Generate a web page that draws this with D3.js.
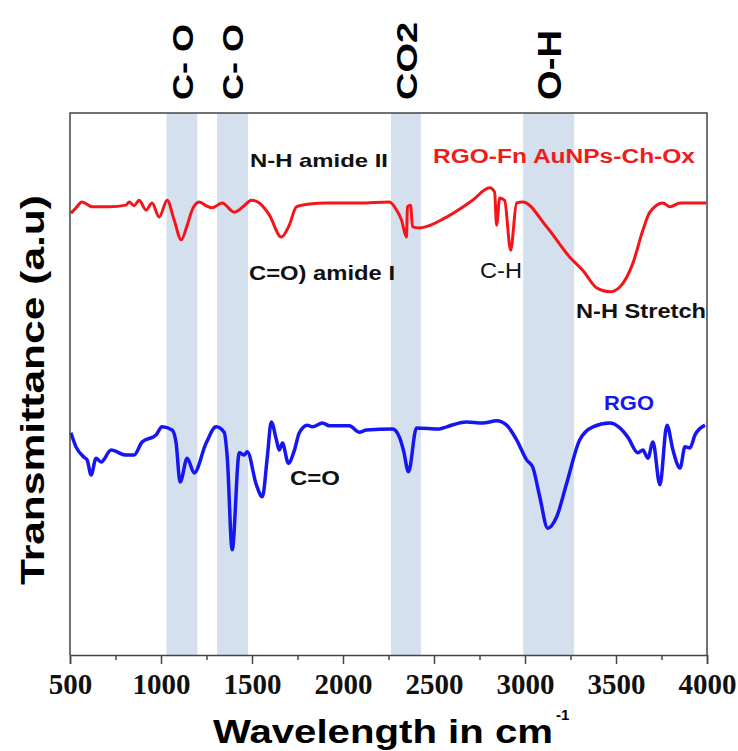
<!DOCTYPE html>
<html>
    <head>
        <style>
            body { margin: 0; background: #fff; }
            svg { display: block; background: #fff; }
        </style>
    </head>
    <body>
        <div id="chart"></div>

        <script src="https://cdnjs.cloudflare.com/ajax/libs/d3/7.8.5/d3.min.js"></script>

    <script>
        // wavenumbers (cm-1) and transmittance (a.u.)
        var fnWave = [505, 533, 566, 621, 715, 808, 825, 852, 880, 918, 951, 990, 1034, 1072, 1111, 1144, 1171, 1210, 1248, 1281, 1336, 1402, 1457, 1496, 1540, 1595, 1661, 1705, 1744, 1815, 1909, 2090, 2255, 2294, 2321, 2349, 2354, 2371, 2382, 2420, 2569, 2712, 2806, 2833, 2844, 2861, 2888, 2921, 2954, 2987, 3119, 3246, 3317, 3395, 3466, 3521, 3593, 3648, 3686, 3758, 3797, 3852, 3995];
        var fnT = [81.5, 82.5, 83.6, 82.7, 82.7, 83.0, 83.6, 82.9, 83.9, 82.1, 83.4, 80.8, 83.9, 80.3, 76.6, 79.3, 82.1, 83.6, 82.9, 82.5, 83.4, 81.7, 82.9, 83.9, 83.4, 81.2, 77.1, 79.3, 82.7, 83.2, 83.4, 83.4, 83.6, 82.1, 80.3, 77.1, 82.7, 83.0, 79.0, 78.8, 80.8, 83.9, 86.2, 85.4, 79.3, 84.3, 83.9, 74.7, 83.4, 83.6, 79.0, 73.4, 71.0, 67.7, 67.0, 67.9, 72.3, 78.4, 81.7, 83.4, 82.7, 83.4, 83.4];

        var rgoWave = [505, 533, 577, 594, 616, 643, 671, 726, 808, 852, 896, 973, 1006, 1061, 1083, 1105, 1144, 1182, 1248, 1303, 1347, 1364, 1391, 1430, 1458, 1474, 1524, 1557, 1584, 1606, 1634, 1650, 1667, 1700, 1733, 1760, 1804, 1832, 1887, 1925, 2035, 2090, 2129, 2272, 2310, 2332, 2360, 2404, 2531, 2569, 2679, 2767, 2844, 2899, 2954, 3009, 3042, 3081, 3125, 3174, 3229, 3301, 3373, 3466, 3521, 3565, 3620, 3648, 3675, 3703, 3741, 3780, 3813, 3852, 3879, 3906, 3934, 3989];
        var rgoT = [41.0, 38.4, 36.5, 36.0, 33.2, 36.3, 35.6, 37.8, 36.9, 36.9, 39.3, 40.6, 42.1, 41.5, 39.1, 31.9, 36.3, 33.6, 39.1, 42.1, 41.1, 36.5, 19.4, 37.3, 36.9, 37.5, 31.4, 29.2, 36.5, 43.0, 39.7, 37.8, 39.1, 35.4, 37.8, 41.0, 42.4, 42.1, 42.8, 42.3, 42.3, 41.1, 41.5, 41.7, 40.2, 37.8, 33.8, 41.9, 41.7, 42.1, 43.0, 42.8, 43.2, 42.4, 39.7, 36.0, 34.7, 29.2, 23.4, 25.5, 31.7, 39.7, 42.1, 42.8, 41.9, 40.2, 37.3, 37.8, 36.3, 39.3, 31.4, 42.4, 37.8, 34.5, 38.4, 38.2, 40.6, 42.4];

        // shaded band ranges (cm-1) and their labels
        var bandStart = [1030, 1308, 2264, 2990];
        var bandEnd = [1200, 1478, 2428, 3270];
        var bandLabels = ["C- O", "C- O", "CO2", "O-H"];

        var xTicks = [500, 1000, 1500, 2000, 2500, 3000, 3500, 4000];

        (function() {
            var width = 738,
                height = 751;
            var left = 70, right = 707, top = 113, bottom = 655;

            var svg = d3.select("#chart")
                .append("svg")
                .attr("width", width)
                .attr("height", height);

            var x = d3.scaleLinear().domain([500, 4000]).range([left, right]);
            var y = d3.scaleLinear().domain([0, 100]).range([bottom, top]);

            // bands
            svg.selectAll(".band")
                .data(bandStart)
                .enter().append("rect")
                .attr("class", "band")
                .attr("x", function(d) { return x(d); })
                .attr("width", function(d, i) { return x(bandEnd[i]) - x(d); })
                .attr("y", top)
                .attr("height", bottom - top)
                .attr("fill", "#d5e0ee");

            // band labels on top, rotated
            var labelSize = [30, 30, 30, 34];
            var labelLen = [76, 76, 78, 70];
            svg.selectAll(".blabel")
                .data(bandLabels)
                .enter().append("text")
                .attr("class", "blabel")
                .attr("transform", function(d, i) {
                    var cx = (x(bandStart[i]) + x(bandEnd[i])) / 2 + labelSize[i] * 0.36;
                    return "translate(" + cx + ",100) rotate(-90)";
                })
                .attr("font-family", "Liberation Sans, Arial, sans-serif")
                .attr("font-weight", "bold")
                .attr("font-size", function(d, i) { return labelSize[i]; })
                .attr("textLength", function(d, i) { return labelLen[i]; })
                .attr("lengthAdjust", "spacingAndGlyphs")
                .text(function(d) { return d; });

            var line = d3.line()
                .x(function(d) { return x(d[0]); })
                .y(function(d) { return y(d[1]); })
                .curve(d3.curveMonotoneX);

            svg.append("path")
                .datum(d3.zip(fnWave, fnT))
                .attr("d", line)
                .attr("fill", "none")
                .attr("stroke", "#f5141a")
                .attr("stroke-width", 3)
                .attr("stroke-linejoin", "round");

            svg.append("path")
                .datum(d3.zip(rgoWave, rgoT))
                .attr("d", line)
                .attr("fill", "none")
                .attr("stroke", "#1616f2")
                .attr("stroke-width", 3.5)
                .attr("stroke-linejoin", "round");

            // frame
            svg.append("path")
                .attr("d", "M" + left + "," + bottom + "V" + top + "H" + right + "V" + bottom)
                .attr("fill", "none")
                .attr("stroke", "#444")
                .attr("stroke-width", 1.5);

            // x axis
            var xAxis = d3.axisBottom(x)
                .tickValues(xTicks)
                .tickSize(9)
                .tickPadding(9)
                .tickFormat(d3.format("d"));
            var gx = svg.append("g")
                .attr("transform", "translate(0," + bottom + ")")
                .call(xAxis);
            gx.select(".domain").attr("stroke", "#444").attr("stroke-width", 1.5);
            gx.selectAll(".tick line").attr("stroke", "#444").attr("stroke-width", 1.5);
            gx.selectAll("text")
                .attr("font-family", "Liberation Serif, Times New Roman, serif")
                .attr("font-weight", "bold")
                .attr("font-size", 29)
                .attr("fill", "#111");

            var minor = d3.axisBottom(x)
                .tickValues(d3.range(750, 4000, 500))
                .tickSize(5)
                .tickFormat("");
            var gm = svg.append("g")
                .attr("transform", "translate(0," + bottom + ")")
                .call(minor);
            gm.select(".domain").remove();
            gm.selectAll(".tick line").attr("stroke", "#444").attr("stroke-width", 1.5);

            // axis titles
            svg.append("text")
                .attr("x", 213)
                .attr("y", 743)
                .attr("font-family", "Liberation Sans, Arial, sans-serif")
                .attr("font-weight", "bold")
                .attr("font-size", 34)
                .attr("textLength", 340)
                .attr("lengthAdjust", "spacingAndGlyphs")
                .text("Wavelength in cm");
            svg.append("text")
                .attr("x", 556)
                .attr("y", 720)
                .attr("font-family", "Liberation Sans, Arial, sans-serif")
                .attr("font-weight", "bold")
                .attr("font-size", 15)
                .text("-1");

            svg.append("text")
                .attr("transform", "translate(44,390) rotate(-90)")
                .attr("text-anchor", "middle")
                .attr("font-family", "Liberation Sans, Arial, sans-serif")
                .attr("font-weight", "bold")
                .attr("font-size", 33)
                .attr("textLength", 390)
                .attr("lengthAdjust", "spacingAndGlyphs")
                .text("Transmittance (a.u)");

            // annotations
            var notes = [
                {t: "N-H amide II", x: 250, y: 167, s: 19, w: 138, c: "#111", b: "bold"},
                {t: "RGO-Fn AuNPs-Ch-Ox", x: 433, y: 163, s: 20, w: 262, c: "#f01c1c", b: "bold"},
                {t: "C=O) amide I", x: 249, y: 280, s: 20, w: 146, c: "#111", b: "bold"},
                {t: "C-H", x: 480, y: 278, s: 22, w: 42, c: "#111", b: "normal"},
                {t: "N-H Stretch", x: 576, y: 318, s: 20, w: 130, c: "#111", b: "bold"},
                {t: "RGO", x: 604, y: 410, s: 21, w: 50, c: "#1616f2", b: "bold"},
                {t: "C=O", x: 290, y: 485, s: 20, w: 50, c: "#111", b: "bold"}
            ];
            svg.selectAll(".note")
                .data(notes)
                .enter().append("text")
                .attr("class", "note")
                .attr("x", function(d) { return d.x; })
                .attr("y", function(d) { return d.y; })
                .attr("font-family", "Liberation Sans, Arial, sans-serif")
                .attr("font-weight", function(d) { return d.b; })
                .attr("font-size", function(d) { return d.s; })
                .attr("fill", function(d) { return d.c; })
                .attr("textLength", function(d) { return d.w; })
                .attr("lengthAdjust", "spacingAndGlyphs")
                .text(function(d) { return d.t; });
        })();
    </script>
    </body>
</html>
